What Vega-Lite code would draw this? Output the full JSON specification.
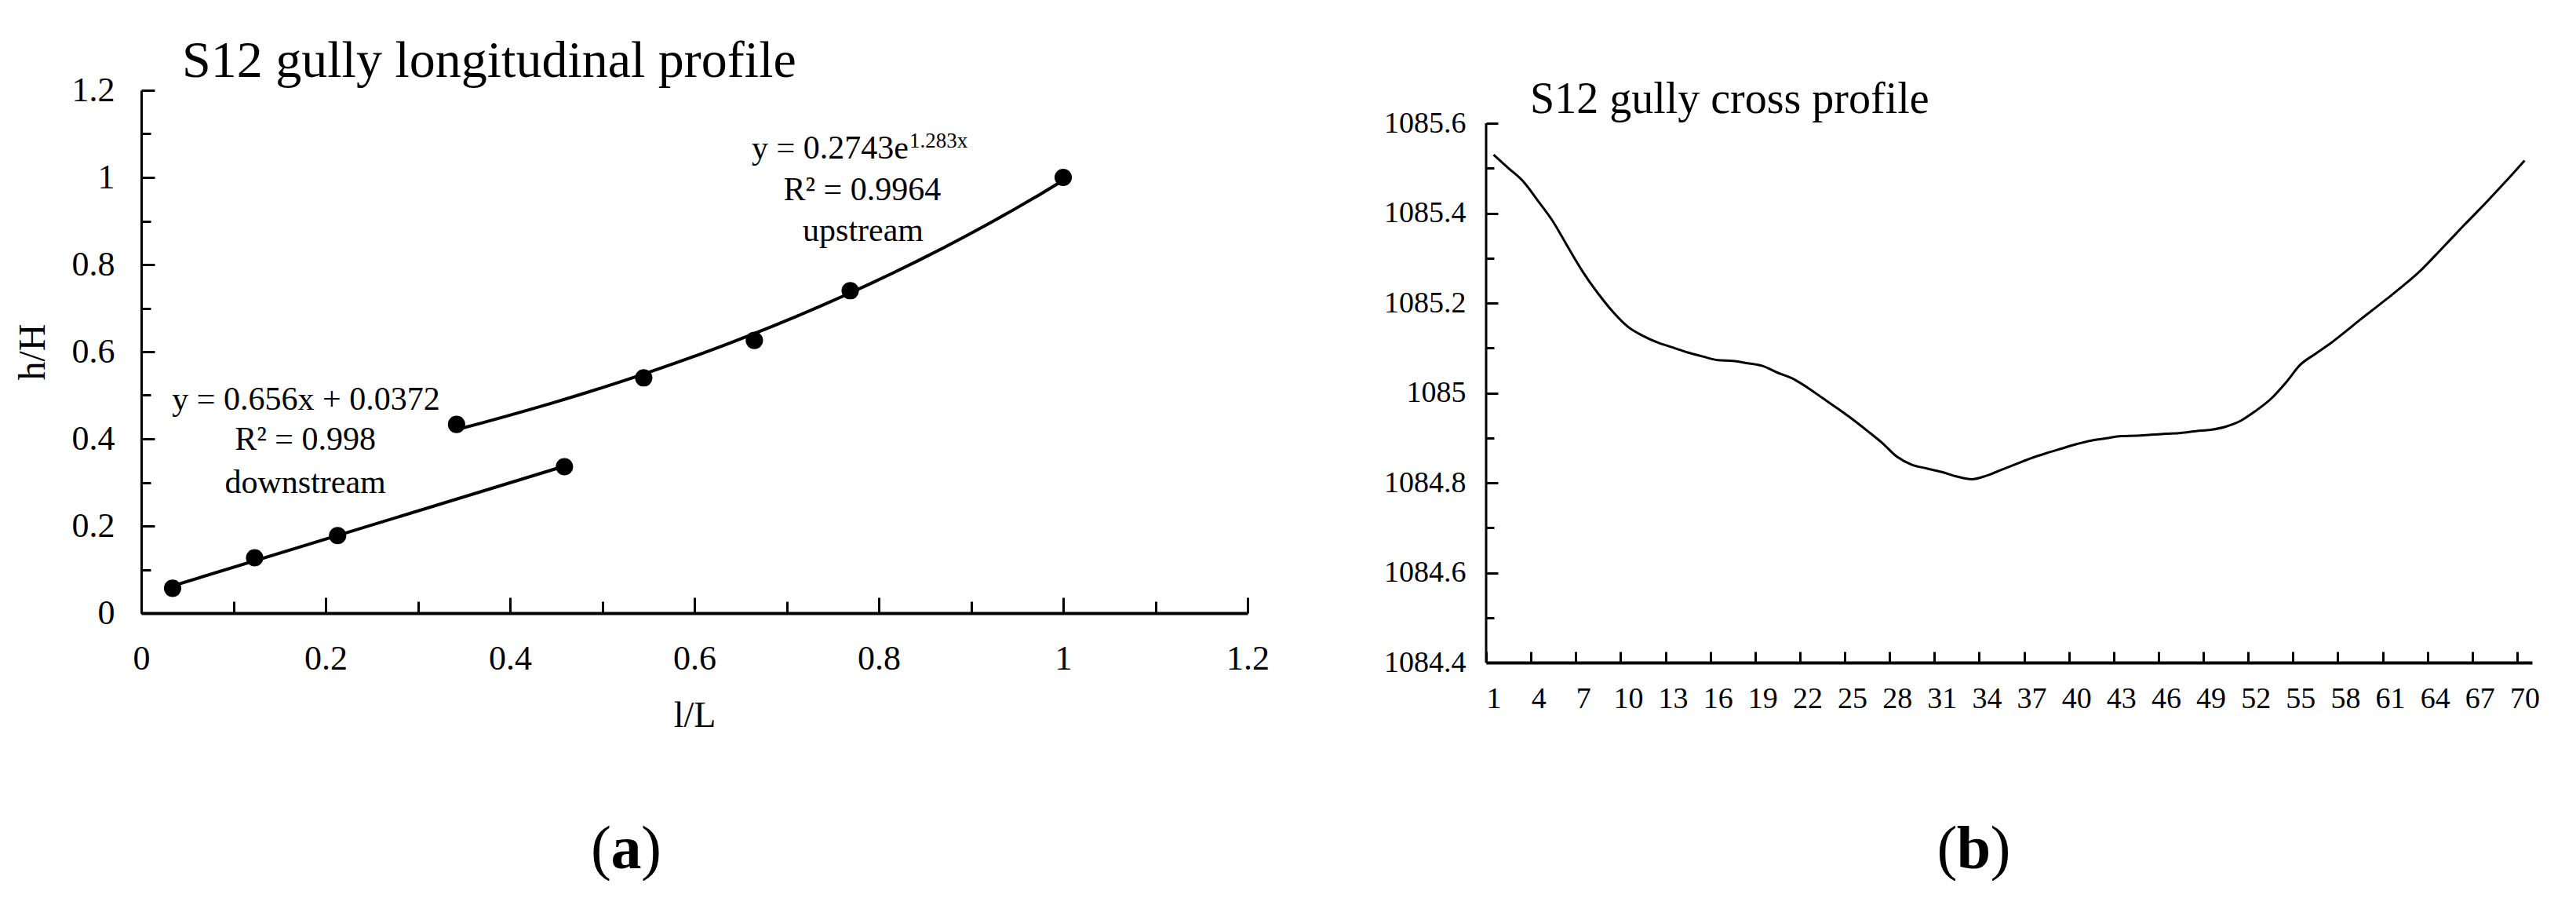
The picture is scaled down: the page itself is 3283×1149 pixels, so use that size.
{
  "$schema": "https://vega.github.io/schema/vega-lite/v6.json",
  "background": "white",
  "padding": {"left": 18, "top": 45, "right": 0, "bottom": 0},
  "spacing": 145,
  "config": {
    "font": "Liberation Serif",
    "view": {"stroke": null},
    "axis": {
      "labelFont": "Liberation Serif", "titleFont": "Liberation Serif",
      "labelColor": "black", "titleColor": "black", "domainColor": "black", "tickColor": "black",
      "grid": false, "labelFontWeight": "normal", "titleFontWeight": "normal",
      "labelFlush": false, "labelOverlap": false, "labelBound": false, "tickWidth": 3
    },
    "title": {"font": "Liberation Serif", "fontWeight": "normal", "color": "black"},
    "text": {"font": "Liberation Serif", "color": "black"}
  },
  "hconcat": [
    {
      "width": 1410,
      "height": 666,
      "title": {"text": "S12 gully longitudinal profile", "anchor": "start", "frame": "group", "dx": 52, "fontSize": 66, "offset": -19},
      "data": {"values": [
        {"l": 0.034, "h": 0.057, "reach": "downstream"},
        {"l": 0.123, "h": 0.127, "reach": "downstream"},
        {"l": 0.213, "h": 0.178, "reach": "downstream"},
        {"l": 0.459, "h": 0.336, "reach": "downstream"},
        {"l": 0.342, "h": 0.433, "reach": "upstream"},
        {"l": 0.545, "h": 0.540, "reach": "upstream"},
        {"l": 0.665, "h": 0.626, "reach": "upstream"},
        {"l": 0.769, "h": 0.740, "reach": "upstream"},
        {"l": 1.0, "h": 1.0, "reach": "upstream"}
      ]},
      "encoding": {
        "x": {"field": "l", "type": "quantitative",
          "scale": {"domain": [0, 1.2], "nice": false, "zero": false},
          "axis": {"title": "l/L", "titleFontSize": 46, "titlePadding": 28, "labelFontSize": 44,
            "values": [0, 0.1, 0.2, 0.3, 0.4, 0.5, 0.6, 0.7, 0.8, 0.9, 1, 1.1, 1.2],
            "labelExpr": "round(datum.value*10)%2===0 ? '' + round(datum.value*10)/10 : ''",
            "tickSize": -20,
            "tickDash": {"condition": {"test": "round(datum.value*10)%2===0", "value": [30, 0]}, "value": [15, 100]},
            "labelPadding": 56, "domainWidth": 4}},
        "y": {"field": "h", "type": "quantitative",
          "scale": {"domain": [0, 1.2], "nice": false, "zero": false},
          "axis": {"title": "h/H", "titleFontSize": 48, "titlePadding": 25, "labelFontSize": 44,
            "values": [0, 0.1, 0.2, 0.3, 0.4, 0.5, 0.6, 0.7, 0.8, 0.9, 1, 1.1, 1.2],
            "labelExpr": "round(datum.value*10)%2===0 ? '' + round(datum.value*10)/10 : ''",
            "tickSize": -17,
            "tickDash": {"condition": {"test": "round(datum.value*10)%2===0", "value": [30, 0]}, "value": [12, 100]},
            "labelPadding": 51, "domainWidth": 3}}
      },
      "layer": [
        {
          "transform": [{"filter": "datum.reach === 'downstream'"}, {"regression": "h", "on": "l", "method": "linear"}],
          "mark": {"type": "line", "color": "black", "strokeWidth": 4}
        },
        {
          "transform": [{"filter": "datum.reach === 'upstream'"}, {"regression": "h", "on": "l", "method": "exp"}],
          "mark": {"type": "line", "color": "black", "strokeWidth": 4}
        },
        {
          "mark": {"type": "circle", "size": 490, "color": "black", "opacity": 1}
        },
        {
          "data": {"values": [
            {"l": 0.782, "h": 0.972, "t": "R² = 0.9964"},
            {"l": 0.783, "h": 0.878, "t": "upstream"},
            {"l": 0.1787, "h": 0.490, "t": "y = 0.656x + 0.0372"},
            {"l": 0.178, "h": 0.398, "t": "R² = 0.998"},
            {"l": 0.178, "h": 0.300, "t": "downstream"}
          ]},
          "mark": {"type": "text", "fontSize": 42, "align": "center", "baseline": "middle"},
          "encoding": {"text": {"field": "t"}}
        },
        {
          "data": {"values": [{"l": 0.8323, "h": 1.0667, "t": "y = 0.2743e"}]},
          "mark": {"type": "text", "fontSize": 42, "align": "right", "baseline": "middle"},
          "encoding": {"text": {"field": "t"}}
        },
        {
          "data": {"values": [{"l": 0.8323, "h": 1.083, "t": "1.283x"}]},
          "mark": {"type": "text", "fontSize": 27, "align": "left", "baseline": "middle", "dx": 1},
          "encoding": {"text": {"field": "t"}}
        },
        {
          "data": {"values": [{"l": 0.526, "h": -0.544}]},
          "mark": {"type": "text", "fontSize": 78, "align": "right", "baseline": "middle", "dx": -19},
          "encoding": {"text": {"value": "("}}
        },
        {
          "data": {"values": [{"l": 0.526, "h": -0.544}]},
          "mark": {"type": "text", "fontSize": 78, "align": "center", "baseline": "middle", "fontWeight": "bold"},
          "encoding": {"text": {"value": "a"}}
        },
        {
          "data": {"values": [{"l": 0.526, "h": -0.544}]},
          "mark": {"type": "text", "fontSize": 78, "align": "left", "baseline": "middle", "dx": 19},
          "encoding": {"text": {"value": ")"}}
        }
      ]
    },
    {
      "width": 1333,
      "height": 729,
      "title": {"text": "S12 gully cross profile", "anchor": "start", "frame": "group", "dx": 56, "fontSize": 56, "offset": -41},
      "encoding": {
        "x": {"field": "pt", "type": "quantitative",
          "scale": {"domain": [0.5, 70.5], "nice": false, "zero": false},
          "axis": {"title": null, "labelFontSize": 38,
            "values": [0.5, 3.5, 6.5, 9.5, 12.5, 15.5, 18.5, 21.5, 24.5, 27.5, 30.5, 33.5, 36.5, 39.5, 42.5, 45.5, 48.5, 51.5, 54.5, 57.5, 60.5, 63.5, 66.5, 69.5],
            "labelExpr": "'' + (datum.value + 0.5)",
            "labelOffset": 9.52, "tickSize": -14, "labelPadding": 41, "domainWidth": 4}},
        "y": {"field": "elev", "type": "quantitative",
          "scale": {"domain": [1084.4, 1085.6734], "nice": false, "zero": false},
          "axis": {"title": null, "labelFontSize": 38, "domain": false,
            "values": [1084.4, 1084.5, 1084.6, 1084.7, 1084.8, 1084.9, 1085, 1085.1, 1085.2, 1085.3, 1085.4, 1085.5, 1085.6],
            "labelExpr": "round(datum.value*10)%2===0 ? '' + round(datum.value*10)/10 : ''",
            "tickSize": -15,
            "tickDash": {"condition": {"test": "round(datum.value*10)%2===0", "value": [30, 0]}, "value": [10, 100]},
            "labelPadding": 41}}
      },
      "layer": [
        {
          "data": {"values": [
            {"pt": 1, "elev": 1085.53}, {"pt": 2, "elev": 1085.50}, {"pt": 3, "elev": 1085.47}, {"pt": 4, "elev": 1085.426},
            {"pt": 5, "elev": 1085.38}, {"pt": 6, "elev": 1085.323}, {"pt": 7, "elev": 1085.268}, {"pt": 8, "elev": 1085.221},
            {"pt": 9, "elev": 1085.18}, {"pt": 10, "elev": 1085.147}, {"pt": 11, "elev": 1085.127}, {"pt": 12, "elev": 1085.112},
            {"pt": 13, "elev": 1085.101}, {"pt": 14, "elev": 1085.09}, {"pt": 15, "elev": 1085.081}, {"pt": 16, "elev": 1085.073},
            {"pt": 17, "elev": 1085.071}, {"pt": 18, "elev": 1085.066}, {"pt": 19, "elev": 1085.06}, {"pt": 20, "elev": 1085.045},
            {"pt": 21, "elev": 1085.032}, {"pt": 22, "elev": 1085.012}, {"pt": 23, "elev": 1084.989}, {"pt": 24, "elev": 1084.966},
            {"pt": 25, "elev": 1084.942}, {"pt": 26, "elev": 1084.916}, {"pt": 27, "elev": 1084.889}, {"pt": 28, "elev": 1084.858},
            {"pt": 29, "elev": 1084.84}, {"pt": 30, "elev": 1084.832}, {"pt": 31, "elev": 1084.824}, {"pt": 32, "elev": 1084.814},
            {"pt": 33, "elev": 1084.808}, {"pt": 34, "elev": 1084.816}, {"pt": 35, "elev": 1084.829}, {"pt": 36, "elev": 1084.842},
            {"pt": 37, "elev": 1084.855}, {"pt": 38, "elev": 1084.866}, {"pt": 39, "elev": 1084.876}, {"pt": 40, "elev": 1084.886},
            {"pt": 41, "elev": 1084.894}, {"pt": 42, "elev": 1084.899}, {"pt": 43, "elev": 1084.904}, {"pt": 44, "elev": 1084.905},
            {"pt": 45, "elev": 1084.907}, {"pt": 46, "elev": 1084.909}, {"pt": 47, "elev": 1084.911}, {"pt": 48, "elev": 1084.915},
            {"pt": 49, "elev": 1084.918}, {"pt": 50, "elev": 1084.925}, {"pt": 51, "elev": 1084.938}, {"pt": 52, "elev": 1084.96},
            {"pt": 53, "elev": 1084.986}, {"pt": 54, "elev": 1085.022}, {"pt": 55, "elev": 1085.063}, {"pt": 56, "elev": 1085.087},
            {"pt": 57, "elev": 1085.11}, {"pt": 58, "elev": 1085.136}, {"pt": 59, "elev": 1085.163}, {"pt": 60, "elev": 1085.189},
            {"pt": 61, "elev": 1085.215}, {"pt": 62, "elev": 1085.242}, {"pt": 63, "elev": 1085.271}, {"pt": 64, "elev": 1085.305},
            {"pt": 65, "elev": 1085.34}, {"pt": 66, "elev": 1085.375}, {"pt": 67, "elev": 1085.409}, {"pt": 68, "elev": 1085.444},
            {"pt": 69, "elev": 1085.48}, {"pt": 70, "elev": 1085.517}
          ]},
          "mark": {"type": "line", "color": "black", "strokeWidth": 3, "interpolate": "monotone"}
        },
        {
          "data": {"values": [{"pt": 0.5, "lo": 1084.4, "hi": 1085.6}]},
          "mark": {"type": "rule", "color": "black", "strokeWidth": 3},
          "encoding": {"y": {"field": "lo", "type": "quantitative"}, "y2": {"field": "hi"}}
        },
        {
          "data": {"values": [{"pt": 33.14, "elev": 1083.983}]},
          "mark": {"type": "text", "fontSize": 78, "align": "right", "baseline": "middle", "dx": -21},
          "encoding": {"text": {"value": "("}}
        },
        {
          "data": {"values": [{"pt": 33.14, "elev": 1083.983}]},
          "mark": {"type": "text", "fontSize": 78, "align": "center", "baseline": "middle", "fontWeight": "bold"},
          "encoding": {"text": {"value": "b"}}
        },
        {
          "data": {"values": [{"pt": 33.14, "elev": 1083.983}]},
          "mark": {"type": "text", "fontSize": 78, "align": "left", "baseline": "middle", "dx": 21},
          "encoding": {"text": {"value": ")"}}
        }
      ]
    }
  ]
}
